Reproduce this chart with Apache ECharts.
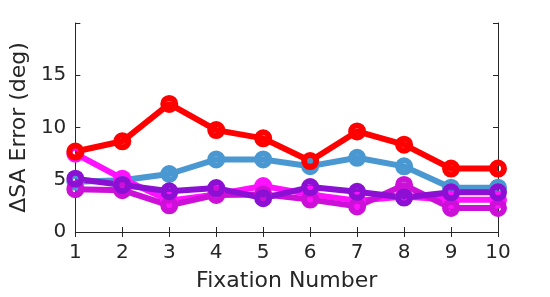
<!DOCTYPE html>
<html><head><meta charset="utf-8">
<script src="https://cdn.jsdelivr.net/npm/echarts@6/dist/echarts.min.js"></script>
<style>html,body{margin:0;padding:0;background:#fff}#c{width:550px;height:297px}</style>
</head><body><div id="c"></div>
<script>
var fixations = [1,2,3,4,5,6,7,8,9,10];
var yTicks = [0,5,10,15];
var blueVals    = [4.8, 4.96, 5.55, 6.94, 6.94, 6.3, 7.1, 6.28, 4.24, 4.24];
var magentaVals = [7.5, 5.1, 3.0, 3.6, 4.4, 3.6, 3.0, 3.4, 3.08, 3.08];
var orchidVals  = [4.1, 4.0, 2.55, 3.55, 3.6, 3.1, 2.45, 4.5, 2.3, 2.3];
var purpleVals  = [5.1, 4.5, 3.9, 4.2, 3.24, 4.3, 3.85, 3.3, 3.8, 3.8];
var redVals     = [7.7, 8.68, 12.26, 9.75, 8.96, 6.79, 9.62, 8.36, 6.07, 6.07];

var txt = '#262626';
var font = 'DejaVu Sans';
function mk(name, vals, color) {
  return {
    name: name, type: 'line', data: vals.map(function(v,i){return [fixations[i], v];}),
    symbol: 'circle', symbolSize: 12,
    lineStyle: {color: color, width: 6},
    itemStyle: {color: 'rgba(255,255,255,0)', borderColor: color, borderWidth: 6},
    emphasis: {disabled: true}, animation: false
  };
}
var chart = echarts.init(document.getElementById('c'));
var axisCommon = {
  axisLine: {lineStyle: {color: txt, width: 1}},
  axisTick: {inside: true, length: 5, lineStyle: {color: txt}},
  splitLine: {show: false}
};
chart.setOption({
  animation: false,
  grid: {left: 72, right: 52, top: 23, bottom: 63},
  xAxis: [
    Object.assign({type: 'value', min: 1, max: 10, interval: 1,
      name: 'Fixation Number', nameLocation: 'middle', nameGap: 38,
      nameTextStyle: {fontFamily: font, fontSize: 22, color: txt},
      axisLabel: {fontFamily: font, fontSize: 20, color: txt, margin: 11,
        formatter: function(v){return fixations.indexOf(v) >= 0 ? String(v) : '';}}
    }, axisCommon),
    Object.assign({type: 'value', min: 1, max: 10, interval: 1, position: 'top',
      axisLabel: {show: false}}, axisCommon)
  ],
  yAxis: [
    Object.assign({type: 'value', min: 0, max: 20, interval: 5,
      name: 'ΔSA Error (deg)', nameLocation: 'middle', nameGap: 36,
      nameTextStyle: {fontFamily: font, fontSize: 22, color: txt},
      axisLabel: {fontFamily: font, fontSize: 20, color: txt, margin: 9,
        formatter: function(v){return yTicks.indexOf(v) >= 0 ? String(v) : '';}}
    }, axisCommon),
    Object.assign({type: 'value', min: 0, max: 20, interval: 5, position: 'right',
      axisLabel: {show: false}}, axisCommon)
  ],
  series: [
    mk('blue', blueVals, '#4a98d2'),
    mk('magenta', magentaVals, '#ff10ff'),
    mk('orchid', orchidVals, '#cc10d8'),
    mk('purple', purpleVals, '#8c10d4'),
    mk('red', redVals, '#ff0000')
  ]
});
</script></body></html>
